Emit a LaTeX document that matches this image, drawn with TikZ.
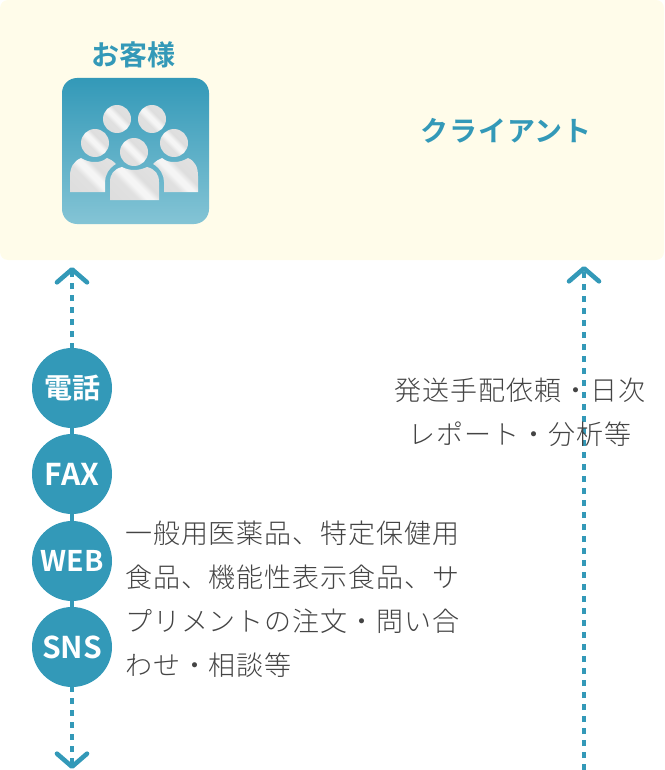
\documentclass[tikz,border=0pt]{standalone}
\usepackage{fontspec}
\usetikzlibrary{arrows.meta}
\newfontfamily\jpreg{Noto Sans CJK JP Light}[LetterSpace=3.4]
\newfontfamily\jpbold{Noto Sans CJK JP Bold}
\definecolor{teal1}{HTML}{3399B8}
\definecolor{teal2}{HTML}{84C4D5}
\definecolor{panelc}{HTML}{FFFCEA}
\definecolor{inkc}{HTML}{444444}
\pgfdeclarehorizontalshading{metalshade}{100bp}{
  color(0bp)=(white!86!black);
  color(40bp)=(white!88!black);
  color(47bp)=(white!96!black);
  color(53bp)=(white!96!black);
  color(60bp)=(white!87!black);
  color(100bp)=(white!90!black)}
\tikzset{
  panel/.style={fill=panelc,rounded corners=8pt,anchor=north west,minimum width=664pt,minimum height=260pt,inner sep=0pt,outer sep=0pt},
  iconbox/.style={rounded corners=15pt,top color=teal1,bottom color=teal2,anchor=north west,minimum width=147pt,minimum height=146pt,inner sep=0pt,outer sep=0pt},
  metal/.style={shading=metalshade,shading angle=45},
  badge/.style={circle,fill=teal1,text=white,minimum size=80pt,inner sep=0pt,outer sep=0pt,font=\fontsize{28}{28}\selectfont\jpbold},
  latinbadge/.style={badge,font=\fontsize{30}{30}\selectfont\jpbold},
  heading/.style={text=teal1,inner sep=0pt,font=\fontsize{28}{28}\selectfont\jpbold},
  bodytext/.style={text=inkc,inner sep=0pt,font=\fontsize{27}{44}\selectfont\jpreg},
  flow/.style={draw=teal1,line width=4.6pt,dash pattern=on 6pt off 6pt},
  link/.style={draw=teal1,line width=4.6pt},
  tip/.style={-{Straight Barb[length=13pt,width=30pt,line width=4.6pt,round]}}
}
\begin{document}
\begin{tikzpicture}[x=1pt,y=-1pt]
\useasboundingbox (0,0) rectangle (664,770);
\node[panel] (board) at (0,0) {};
\node[heading] (customer) at (133,55) {お客様};
\node[heading,font=\fontsize{28}{28}\selectfont\jpbold\addfontfeature{LetterSpace=3.5}] (client) at (506,131) {クライアント};
\node[iconbox] (icon) at (62,78) {};
% people
\shade[metal] (117,119) circle[radius=14];
\shade[metal] (152,119) circle[radius=14];
\shade[metal] (95,143) circle[radius=14];
\shade[metal] (174,143) circle[radius=14];
\shade[metal] (134,152) circle[radius=14];
\shade[metal] (70,192) -- (70,176) .. controls (70,167) and (74,161) .. (81,158)
  .. controls (86,161) and (90,162) .. (95,162) .. controls (100,162) and (103,161) .. (107,158)
  .. controls (110,159) and (113,161) .. (116,164) .. controls (109,168) and (105,175) .. (105,182)
  -- (105,192) -- cycle;
\shade[metal] (198,192) -- (198,176) .. controls (198,167) and (195,161) .. (188,158)
  .. controls (183,161) and (179,162) .. (174,162) .. controls (169,162) and (166,161) .. (162,158)
  .. controls (159,159) and (156,161) .. (153,164) .. controls (160,168) and (164,175) .. (164,182)
  -- (164,192) -- cycle;
\shade[metal] (110,200) -- (110,182) .. controls (110,174) and (114,169) .. (122,167)
  .. controls (126,169) and (130,170) .. (134,170) .. controls (138,170) and (143,169) .. (147,167)
  .. controls (155,169) and (159,174) .. (159,182) -- (159,200) -- cycle;
% badges
\node[badge] (tel) at (72,388) {\raisebox{-1.5pt}{電話}};
\node[latinbadge] (fax) at (72,474) {\raisebox{-1.5pt}{FAX}};
\node[latinbadge,font=\fontsize{28.5}{28.5}\selectfont\jpbold] (web) at (72,561) {\raisebox{-1.5pt}{WEB}};
\node[latinbadge] (sns) at (72,647) {\raisebox{-1.5pt}{SNS}};
% free ends
\coordinate (ltop) at (72,267);
\coordinate (lbot) at (72,769);
\coordinate (rtop) at (584,266);
\coordinate (rbot) at (584,770);
% connectors
\draw[flow,tip,dash phase=1pt] (tel) -- (ltop);
\draw[flow,tip,dash phase=1pt] (sns) -- (lbot);
\draw[link] (tel) -- (fax);
\draw[link] (fax) -- (web);
\draw[link] (web) -- (sns);
\draw[flow,tip] (rbot) -- (rtop);
% texts
\node[bodytext,anchor=center,align=center] (reports) at (520,412) {発送手配依頼・日次\\レポート・分析等};
\node[bodytext,anchor=north west,align=left] (orders) at (125,521) {一般用医薬品、特定保健用\\食品、機能性表示食品、サ\\プリメントの注文・問い合\\わせ・相談等};
\end{tikzpicture}
\end{document}
